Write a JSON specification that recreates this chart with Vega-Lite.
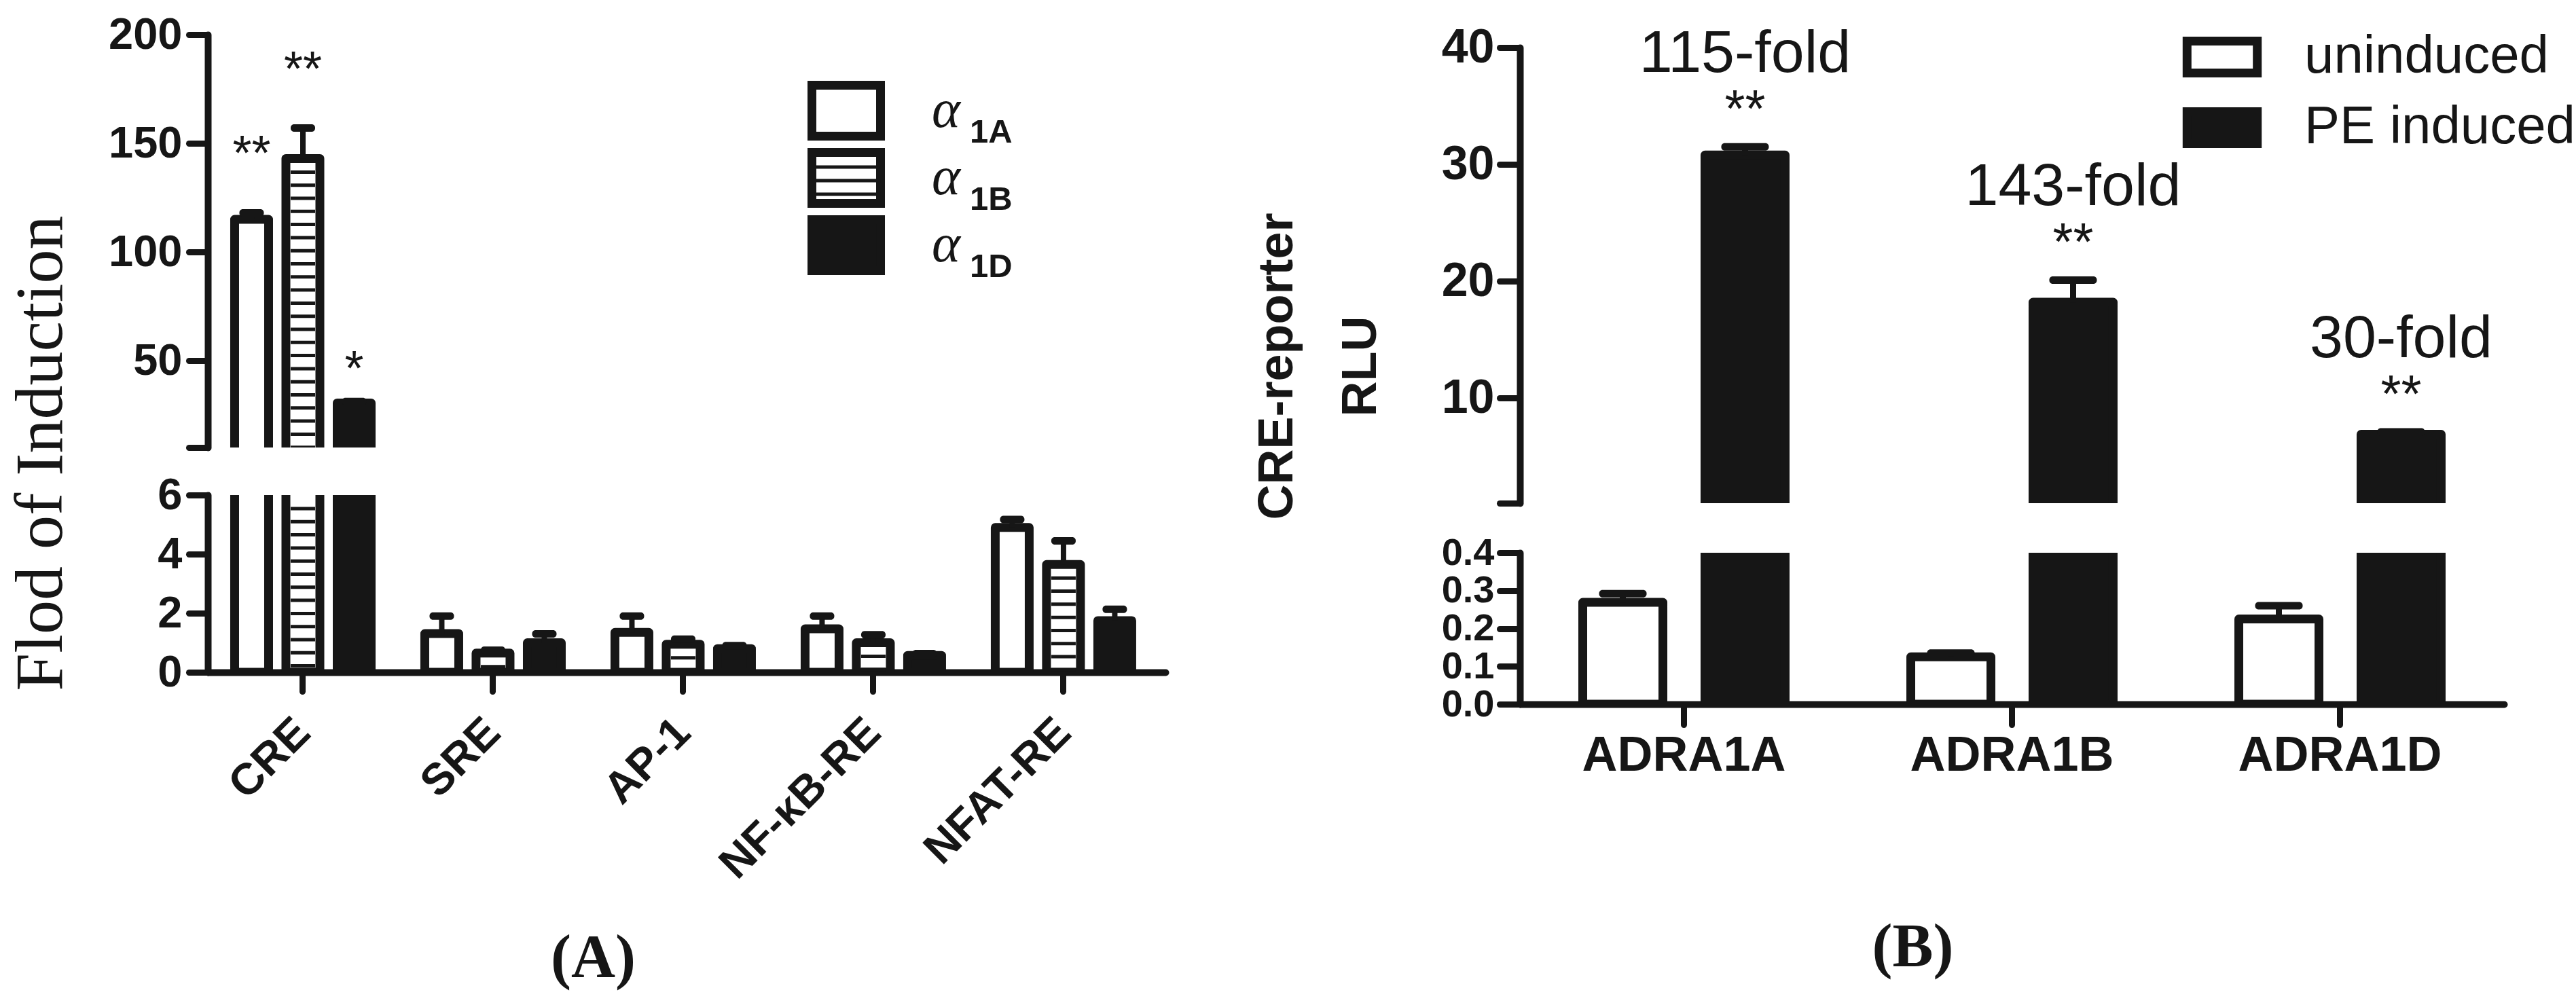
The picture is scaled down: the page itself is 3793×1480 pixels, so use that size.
{
  "$schema": "https://vega.github.io/schema/vega-lite/v6.json",
  "background": "white",
  "padding": {"left": 10, "top": 19, "right": 10, "bottom": 10},
  "config": {
    "view": {"stroke": null},
    "font": "Liberation Sans",
    "axis": {
      "domainColor": "#161616", "domainWidth": 10, "domainCap": "round",
      "tickColor": "#161616", "tickWidth": 9, "tickCap": "round", "tickSize": 28,
      "labelColor": "#161616", "labelFont": "Liberation Sans", "labelFontWeight": "bold",
      "labelFlush": false, "labelOverlap": false, "labelBound": false, "labelLimit": 0,
      "grid": false, "titleColor": "#161616", "titleLimit": 2000
    }
  },
  "datasets": {
    "a": [
      {"group": "CRE", "series": "α1A", "value": 115, "upper": 118, "sig": "**"},
      {"group": "CRE", "series": "α1B", "value": 143, "upper": 157, "sig": "**"},
      {"group": "CRE", "series": "α1D", "value": 30.5, "upper": 31.2, "sig": "*"},
      {"group": "SRE", "series": "α1A", "value": 1.31, "upper": 1.9, "sig": ""},
      {"group": "SRE", "series": "α1B", "value": 0.65, "upper": 0.75, "sig": ""},
      {"group": "SRE", "series": "α1D", "value": 1.0, "upper": 1.3, "sig": ""},
      {"group": "AP-1", "series": "α1A", "value": 1.35, "upper": 1.9, "sig": ""},
      {"group": "AP-1", "series": "α1B", "value": 0.95, "upper": 1.12, "sig": ""},
      {"group": "AP-1", "series": "α1D", "value": 0.8, "upper": 0.9, "sig": ""},
      {"group": "NF-κB-RE", "series": "α1A", "value": 1.47, "upper": 1.9, "sig": ""},
      {"group": "NF-κB-RE", "series": "α1B", "value": 1.0, "upper": 1.27, "sig": ""},
      {"group": "NF-κB-RE", "series": "α1D", "value": 0.57, "upper": 0.63, "sig": ""},
      {"group": "NFAT-RE", "series": "α1A", "value": 4.9, "upper": 5.17, "sig": ""},
      {"group": "NFAT-RE", "series": "α1B", "value": 3.65, "upper": 4.45, "sig": ""},
      {"group": "NFAT-RE", "series": "α1D", "value": 1.75, "upper": 2.13, "sig": ""}
    ],
    "b": [
      {"gene": "ADRA1A", "cond": "uninduced", "value": 0.269, "upper": 0.292, "fold": "", "sig": ""},
      {"gene": "ADRA1A", "cond": "PE induced", "value": 30.8, "upper": 31.5, "fold": "115-fold", "sig": "**"},
      {"gene": "ADRA1B", "cond": "uninduced", "value": 0.125, "upper": 0.135, "fold": "", "sig": ""},
      {"gene": "ADRA1B", "cond": "PE induced", "value": 18.2, "upper": 20.1, "fold": "143-fold", "sig": "**"},
      {"gene": "ADRA1D", "cond": "uninduced", "value": 0.225, "upper": 0.26, "fold": "", "sig": ""},
      {"gene": "ADRA1D", "cond": "PE induced", "value": 6.9, "upper": 7.1, "fold": "30-fold", "sig": "**"}
    ]
  },
  "spacing": 127,
  "resolve": {"scale": {"xOffset": "independent", "fill": "independent", "strokeDash": "independent"}, "legend": {"fill": "independent", "strokeDash": "independent"}},
  "hconcat": [
    {
      "resolve": {"scale": {"xOffset": "independent", "fill": "independent", "strokeDash": "independent"}, "legend": {"fill": "independent", "strokeDash": "independent"}},
      "vconcat": [
        {
          "width": 1410, "height": 608,
          "data": {"name": "a"},
          "encoding": {
            "x": {"field": "group", "type": "nominal", "sort": null, "scale": {"paddingInner": 0, "paddingOuter": 0.018, "align": 0}, "axis": null},
            "xOffset": {"field": "series", "type": "nominal", "scale": {"domain": ["α1A", "α1B", "α1D"], "paddingInner": 0.338, "paddingOuter": 0.523}}
          },
          "layer": [
            {
              "mark": {"type": "bar", "clip": true, "width": 50, "stroke": "#161616", "strokeWidth": 13, "strokeJoin": "round"},
              "encoding": {
                "y": {"field": "value", "type": "quantitative", "scale": {"domain": [10, 200], "zero": false, "nice": false},
                  "axis": {"values": [10, 50, 100, 150, 200], "labelExpr": "datum.value === 10 ? '' : datum.label", "title": null, "labelFontSize": 65, "labelPadding": 10}},
                "y2": {"datum": 0},
                "fill": {"field": "series", "type": "nominal", "scale": {"range": ["white", "white", "#161616"]},
                  "legend": {
                    "orient": "none", "legendX": 883, "legendY": 68, "title": null, "padding": 0, "clipHeight": 88,
                    "symbolType": "M-1.347,-1H1.347V1H-1.347Z", "symbolSize": 5625, "symbolOffset": 13,
                    "symbolStrokeColor": "#161616", "symbolStrokeWidth": 13,
                    "labelExpr": "'α'", "labelFont": "Liberation Serif", "labelFontStyle": "italic", "labelFontWeight": "normal",
                    "labelFontSize": 80, "labelColor": "#161616", "labelOffset": 82, "rowPadding": 11
                  }}
              }
            },
            {
              "transform": [{"filter": "datum.series === 'α1B'"}],
              "mark": {"type": "point", "clip": true, "shape": "M-18,20h36m-36,19.3h36m-36,19.3h36m-36,19.3h36m-36,19.3h36m-36,19.3h36m-36,19.3h36m-36,19.3h36m-36,19.3h36m-36,19.3h36m-36,19.3h36m-36,19.3h36m-36,19.3h36m-36,19.3h36m-36,19.3h36m-36,19.3h36m-36,19.3h36m-36,19.3h36m-36,19.3h36m-36,19.3h36m-36,19.3h36m-36,19.3h36m-36,19.3h36", "size": 4, "filled": false, "color": "#161616", "strokeWidth": 5, "opacity": 1, "strokeCap": "butt"},
              "encoding": {
                "y": {"field": "value", "type": "quantitative"},
                "strokeDash": {"field": "series", "type": "nominal", "scale": {"domain": ["α1A", "α1B", "α1D"], "range": [[0, 3000], [1, 0], [0, 3000]]},
                  "legend": {
                    "orient": "none", "legendX": 883, "legendY": 76, "title": null, "padding": 0, "clipHeight": 88,
                    "symbolType": "M-1.347,-0.64H1.347M-1.347,-0.107H1.347M-1.347,0.427H1.347", "symbolSize": 5625, "symbolOffset": 17,
                    "symbolOpacity": 1, "symbolStrokeColor": "#161616", "symbolStrokeWidth": 5, "symbolFillColor": "transparent",
                    "labelExpr": "substring(datum.label, 1)", "labelFont": "Liberation Sans", "labelFontWeight": "bold", "labelBaseline": "top",
                    "labelFontSize": 49, "labelColor": "#161616", "labelOffset": 142, "rowPadding": 6
                  }}
              }
            },
            {
              "mark": {"type": "rule", "clip": true, "color": "#161616", "strokeWidth": 8, "opacity": 1},
              "encoding": {"y": {"field": "value", "type": "quantitative"}, "y2": {"field": "upper"}}
            },
            {
              "mark": {"type": "tick", "clip": true, "color": "#161616", "opacity": 1, "size": 36, "thickness": 11, "cornerRadius": 5, "orient": "horizontal"},
              "encoding": {"y": {"field": "upper", "type": "quantitative"}}
            },
            {
              "transform": [{"filter": "datum.sig === '**'"}],
              "mark": {"type": "text", "fontSize": 72, "baseline": "alphabetic", "dy": -63, "color": "#161616", "font": "Liberation Sans"},
              "encoding": {"y": {"field": "upper", "type": "quantitative"}, "text": {"field": "sig"}}
            },
            {
              "transform": [{"filter": "datum.sig === '*'"}],
              "mark": {"type": "text", "fontSize": 72, "baseline": "alphabetic", "dy": -24, "color": "#161616", "font": "Liberation Sans"},
              "encoding": {"y": {"field": "upper", "type": "quantitative"}, "text": {"field": "sig"}}
            }
          ]
        },
        {
          "width": 1410, "height": 261,
          "data": {"name": "a"},
          "encoding": {
            "x": {"field": "group", "type": "nominal", "sort": null, "scale": {"paddingInner": 0, "paddingOuter": 0.018, "align": 0},
              "axis": {"title": "(A)", "labelAngle": -45, "labelAlign": "right", "labelBaseline": "middle", "labelFontSize": 65, "labelPadding": 50,
                "titleFont": "Liberation Serif", "titleFontSize": 90, "titleFontWeight": "bold", "titleX": 567, "titleY": 421, "titleBaseline": "middle", "titleAlign": "center"}},
            "xOffset": {"field": "series", "type": "nominal", "scale": {"domain": ["α1A", "α1B", "α1D"], "paddingInner": 0.338, "paddingOuter": 0.523}}
          },
          "resolve": {"scale": {"y": "independent"}},
          "layer": [
            {
              "mark": {"type": "bar", "clip": true, "width": 50, "stroke": "#161616", "strokeWidth": 13, "strokeJoin": "round"},
              "encoding": {
                "y": {"field": "value", "type": "quantitative", "scale": {"domain": [0, 6], "nice": false},
                  "axis": {"values": [0, 2, 4, 6], "labelFontSize": 65, "labelPadding": 10,
                    "title": "Flod of Induction", "titleFont": "Liberation Serif", "titleFontSize": 100, "titleFontWeight": "normal",
                    "titleX": -246, "titleY": -62, "titleAngle": -90, "titleBaseline": "middle", "titleAlign": "center"}},
                "y2": {"datum": 0},
                "fill": {"field": "series", "type": "nominal", "scale": {"range": ["white", "white", "#161616"]}, "legend": null}
              }
            },
            {
              "transform": [{"filter": "datum.series === 'α1B'"}],
              "mark": {"type": "point", "clip": true, "shape": "M-18,20h36m-36,19.3h36m-36,19.3h36m-36,19.3h36m-36,19.3h36m-36,19.3h36m-36,19.3h36m-36,19.3h36m-36,19.3h36m-36,19.3h36m-36,19.3h36m-36,19.3h36m-36,19.3h36m-36,19.3h36", "size": 4, "filled": false, "color": "#161616", "strokeWidth": 5, "opacity": 1, "strokeCap": "butt"},
              "encoding": {"y": {"field": "value", "type": "quantitative", "scale": {"domain": [0, 6], "nice": false, "clamp": true}, "axis": null}}
            },
            {
              "mark": {"type": "rule", "clip": true, "color": "#161616", "strokeWidth": 8, "opacity": 1},
              "encoding": {
                "y": {"field": "value", "type": "quantitative", "scale": {"domain": [0, 6], "nice": false}, "axis": null},
                "y2": {"field": "upper"}
              }
            },
            {
              "mark": {"type": "tick", "clip": true, "color": "#161616", "opacity": 1, "size": 36, "thickness": 11, "cornerRadius": 5, "orient": "horizontal"},
              "encoding": {"y": {"field": "upper", "type": "quantitative", "scale": {"domain": [0, 6], "nice": false}, "axis": null}}
            }
          ]
        }
      ],
      "spacing": 70,
      "bounds": "flush"
    },
    {
      "resolve": {"scale": {"xOffset": "independent", "fill": "independent"}, "legend": {"fill": "independent"}},
      "vconcat": [
        {
          "width": 1449, "height": 690,
          "data": {"name": "b"},
          "encoding": {
            "x": {"field": "gene", "type": "nominal", "sort": null, "scale": {"paddingInner": 0, "paddingOuter": 0}, "axis": null},
            "xOffset": {"field": "cond", "type": "nominal", "scale": {"domain": ["uninduced", "PE induced"], "paddingInner": 0.344, "paddingOuter": 0.514}}
          },
          "layer": [
            {
              "mark": {"type": "bar", "clip": true, "width": 118, "stroke": "#161616", "strokeWidth": 13, "strokeJoin": "round"},
              "encoding": {
                "y": {"field": "value", "type": "quantitative", "scale": {"domain": [1, 40], "range": [690, 19], "zero": false, "nice": false},
                  "axis": {"values": [1, 10, 20, 30, 40], "labelExpr": "datum.value === 1 ? '' : datum.label", "labelFontSize": 70, "labelPadding": 8, "tickSize": 30,
                    "title": ["CRE-reporter", "RLU"], "titleFont": "Liberation Sans", "titleFontSize": 72, "titleFontWeight": "bold", "titleLineHeight": 123,
                    "titleX": -358, "titleY": 488, "titleAngle": -90, "titleBaseline": "middle", "titleAlign": "center"}},
                "y2": {"datum": 0},
                "fill": {"field": "cond", "type": "nominal", "scale": {"domain": ["uninduced", "PE induced"], "range": ["white", "#161616"]},
                  "legend": {
                    "orient": "none", "legendX": 975, "legendY": 3, "title": null, "padding": 0, "clipHeight": 60,
                    "symbolType": "M-2.2,-1H2.2V1H-2.2Z", "symbolSize": 2209, "symbolOffset": 20,
                    "symbolStrokeColor": "#161616", "symbolStrokeWidth": 13,
                    "labelFont": "Liberation Sans", "labelFontWeight": "normal", "labelFontSize": 78, "labelColor": "#161616",
                    "labelOffset": 82, "rowPadding": 26, "labelLimit": 0
                  }}
              }
            },
            {
              "mark": {"type": "rule", "clip": true, "color": "#161616", "strokeWidth": 9, "opacity": 1},
              "encoding": {"y": {"field": "value", "type": "quantitative"}, "y2": {"field": "upper"}}
            },
            {
              "mark": {"type": "tick", "clip": true, "color": "#161616", "opacity": 1, "size": 70, "thickness": 11, "cornerRadius": 5, "orient": "horizontal"},
              "encoding": {"y": {"field": "upper", "type": "quantitative"}}
            },
            {
              "transform": [{"filter": "datum.cond === 'PE induced'"}],
              "mark": {"type": "text", "fontSize": 88, "baseline": "alphabetic", "dy": -110, "color": "#161616", "font": "Liberation Sans"},
              "encoding": {"y": {"field": "upper", "type": "quantitative"}, "text": {"field": "fold"}}
            },
            {
              "transform": [{"filter": "datum.cond === 'PE induced'"}],
              "mark": {"type": "text", "fontSize": 77, "baseline": "alphabetic", "dy": -29, "color": "#161616", "font": "Liberation Sans"},
              "encoding": {"y": {"field": "upper", "type": "quantitative"}, "text": {"field": "sig"}}
            }
          ]
        },
        {
          "width": 1449, "height": 223,
          "data": {"name": "b"},
          "encoding": {
            "x": {"field": "gene", "type": "nominal", "sort": null, "scale": {"paddingInner": 0, "paddingOuter": 0},
              "axis": {"title": "(B)", "labelAngle": 0, "labelFontSize": 72, "labelPadding": 10, "tickSize": 30,
                "titleFont": "Liberation Serif", "titleFontSize": 90, "titleFontWeight": "bold", "titleX": 578, "titleY": 358, "titleBaseline": "middle", "titleAlign": "center"}},
            "xOffset": {"field": "cond", "type": "nominal", "scale": {"domain": ["uninduced", "PE induced"], "paddingInner": 0.344, "paddingOuter": 0.514}}
          },
          "layer": [
            {
              "mark": {"type": "bar", "clip": true, "width": 118, "stroke": "#161616", "strokeWidth": 13, "strokeJoin": "round"},
              "encoding": {
                "y": {"field": "value", "type": "quantitative", "scale": {"domain": [0, 0.4], "nice": false},
                  "axis": {"values": [0, 0.1, 0.2, 0.3, 0.4], "format": ".1f", "labelFontSize": 56, "labelPadding": 8, "tickSize": 30, "title": null}},
                "y2": {"datum": 0},
                "fill": {"field": "cond", "type": "nominal", "scale": {"domain": ["uninduced", "PE induced"], "range": ["white", "#161616"]}, "legend": null}
              }
            },
            {
              "mark": {"type": "rule", "clip": true, "color": "#161616", "strokeWidth": 9, "opacity": 1},
              "encoding": {"y": {"field": "value", "type": "quantitative"}, "y2": {"field": "upper"}}
            },
            {
              "mark": {"type": "tick", "clip": true, "color": "#161616", "opacity": 1, "size": 70, "thickness": 11, "cornerRadius": 5, "orient": "horizontal"},
              "encoding": {"y": {"field": "upper", "type": "quantitative"}}
            }
          ]
        }
      ],
      "spacing": 73,
      "bounds": "flush"
    }
  ]
}
